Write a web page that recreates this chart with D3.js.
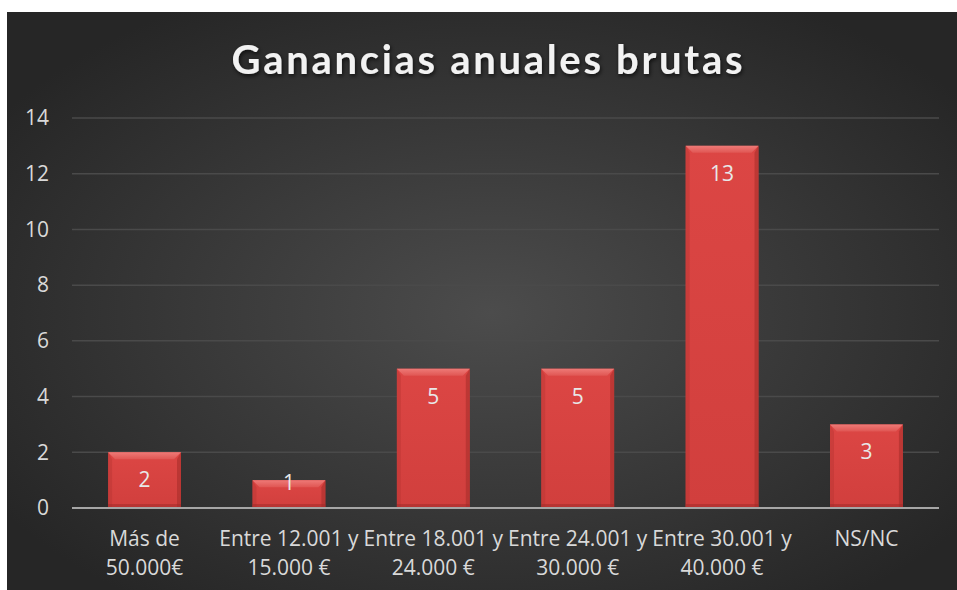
<!DOCTYPE html>
<html>
<head>
<meta charset="utf-8">
<script src="https://cdn.jsdelivr.net/npm/d3@7"></script>
<style>
  html, body { margin: 0; padding: 0; background: #fff; }
  svg { display: block; }
</style>
</head>
<body>
<div id="chart"></div>
<script>
// data
const categories = [
  ["Más de", "50.000€"],
  ["Entre 12.001 y", "15.000 €"],
  ["Entre 18.001 y", "24.000 €"],
  ["Entre 24.001 y", "30.000 €"],
  ["Entre 30.001 y", "40.000 €"],
  ["NS/NC"]
];
const values = [2, 1, 5, 5, 13, 3];
const yTicks = [0, 2, 4, 6, 8, 10, 12, 14];
const title = "Ganancias anuales brutas";

const width = 957, height = 590;
const margin = { top: 118, right: 18, bottom: 82, left: 72 };

const svg = d3.select("#chart").append("svg")
  .attr("width", width)
  .attr("height", height);

const defs = svg.append("defs");

// radial background
const bg = defs.append("radialGradient")
  .attr("id", "bg")
  .attr("cx", "51%").attr("cy", "52%").attr("r", "62%");
bg.append("stop").attr("offset", "0%").attr("stop-color", "#4c4c4c");
bg.append("stop").attr("offset", "100%").attr("stop-color", "#262626");

// bar face
const barGrad = defs.append("linearGradient")
  .attr("id", "barFace").attr("x1", 0).attr("x2", 0).attr("y1", 0).attr("y2", 1);
barGrad.append("stop").attr("offset", "0%").attr("stop-color", "#dc4644");
barGrad.append("stop").attr("offset", "100%").attr("stop-color", "#d13f3d");

const topGrad = defs.append("linearGradient")
  .attr("id", "barTop").attr("x1", 0).attr("x2", 0).attr("y1", 0).attr("y2", 1);
topGrad.append("stop").attr("offset", "0%").attr("stop-color", "#ee7a77");
topGrad.append("stop").attr("offset", "100%").attr("stop-color", "#e05653");

const shadow = defs.append("filter").attr("id", "tshadow")
  .attr("x", "-10%").attr("y", "-30%").attr("width", "120%").attr("height", "160%");
shadow.append("feDropShadow")
  .attr("dx", 1).attr("dy", 2).attr("stdDeviation", 2)
  .attr("flood-color", "#000").attr("flood-opacity", 0.7);

svg.append("rect")
  .attr("x", 7).attr("y", 12)
  .attr("width", width - 7).attr("height", height - 12)
  .attr("fill", "url(#bg)");

// scales
const x = d3.scaleBand()
  .domain(d3.range(categories.length))
  .range([margin.left, width - margin.right])
  .paddingInner(0.495)
  .paddingOuter(0.25);

const y = d3.scaleLinear()
  .domain([0, 14])
  .range([height - margin.bottom, margin.top]);

// gridlines
svg.append("g")
  .selectAll("line")
  .data(yTicks.filter(d => d > 0))
  .join("line")
  .attr("x1", margin.left).attr("x2", width - margin.right)
  .attr("y1", d => y(d)).attr("y2", d => y(d))
  .attr("stroke", "#4a4a4a")
  .attr("stroke-width", 1.5);

// y tick labels
svg.append("g")
  .selectAll("text")
  .data(yTicks)
  .join("text")
  .attr("x", 49)
  .attr("y", d => y(d))
  .attr("dy", "0.35em")
  .attr("text-anchor", "end")
  .attr("fill", "#d9d9d9")
  .style("font-family", "'Open Sans', sans-serif")
  .style("font-size", "21px")
  .text(d => d);

// bars
const bars = svg.append("g")
  .selectAll("g")
  .data(values)
  .join("g");

const bevel = 7;

bars.append("rect")
  .attr("x", (d, i) => x(i))
  .attr("y", d => y(d))
  .attr("width", x.bandwidth())
  .attr("height", d => y(0) - y(d))
  .attr("fill", "url(#barFace)");

// side edges
bars.append("path")
  .attr("d", (d, i) => {
    const x1 = x(i) + x.bandwidth(), t = y(d), b = y(0);
    return `M${x1},${t} L${x1 - 4},${t + bevel} L${x1 - 4},${b} L${x1},${b} Z`;
  })
  .attr("fill", "#a82e2c")
  .attr("opacity", 0.6);
bars.append("path")
  .attr("d", (d, i) => {
    const x0 = x(i), t = y(d), b = y(0);
    return `M${x0},${t} L${x0 + 4},${t + bevel} L${x0 + 4},${b} L${x0},${b} Z`;
  })
  .attr("fill", "#b83533")
  .attr("opacity", 0.45);
// light top bevel
bars.append("path")
  .attr("d", (d, i) => {
    const x0 = x(i), x1 = x(i) + x.bandwidth(), t = y(d);
    return `M${x0},${t} L${x1},${t} L${x1 - bevel},${t + bevel} L${x0 + bevel},${t + bevel} Z`;
  })
  .attr("fill", "url(#barTop)");
// bottom shade
bars.append("rect")
  .attr("x", (d, i) => x(i))
  .attr("y", y(0) - 4)
  .attr("width", x.bandwidth())
  .attr("height", 4)
  .attr("fill", "#9e2a28")
  .attr("opacity", 0.5);

// axis line
svg.append("line")
  .attr("x1", margin.left).attr("x2", width - margin.right)
  .attr("y1", y(0)).attr("y2", y(0))
  .attr("stroke", "#a6a6a6")
  .attr("stroke-width", 2);

// data labels
svg.append("g")
  .selectAll("text")
  .data(values)
  .join("text")
  .attr("x", (d, i) => x(i) + x.bandwidth() / 2)
  .attr("y", d => Math.min(y(d) + 35, y(0) - 18))
  .attr("text-anchor", "middle")
  .attr("fill", "#e8e8e8")
  .style("font-family", "'Open Sans', sans-serif")
  .style("font-size", "21px")
  .text(d => d);

// category labels
const cat = svg.append("g")
  .selectAll("text")
  .data(categories)
  .join("text")
  .attr("x", (d, i) => x(i) + x.bandwidth() / 2)
  .attr("y", 546)
  .attr("text-anchor", "middle")
  .attr("fill", "#d9d9d9")
  .style("font-family", "'Open Sans', sans-serif")
  .style("font-size", "21px");
cat.selectAll("tspan")
  .data(d => d)
  .join("tspan")
  .attr("x", function () { return d3.select(this.parentNode).attr("x"); })
  .attr("dy", (d, i) => i === 0 ? 0 : 29)
  .text(d => d);

// title
svg.append("text")
  .attr("x", 487)
  .attr("y", 74)
  .attr("text-anchor", "middle")
  .attr("fill", "#f2f2f2")
  .attr("filter", "url(#tshadow)")
  .attr("textLength", 511)
  .attr("lengthAdjust", "spacing")
  .style("font-family", "Lato, 'Open Sans', sans-serif")
  .style("font-weight", "bold")
  .style("font-size", "40px")
  .text(title);
</script>
</body>
</html>
